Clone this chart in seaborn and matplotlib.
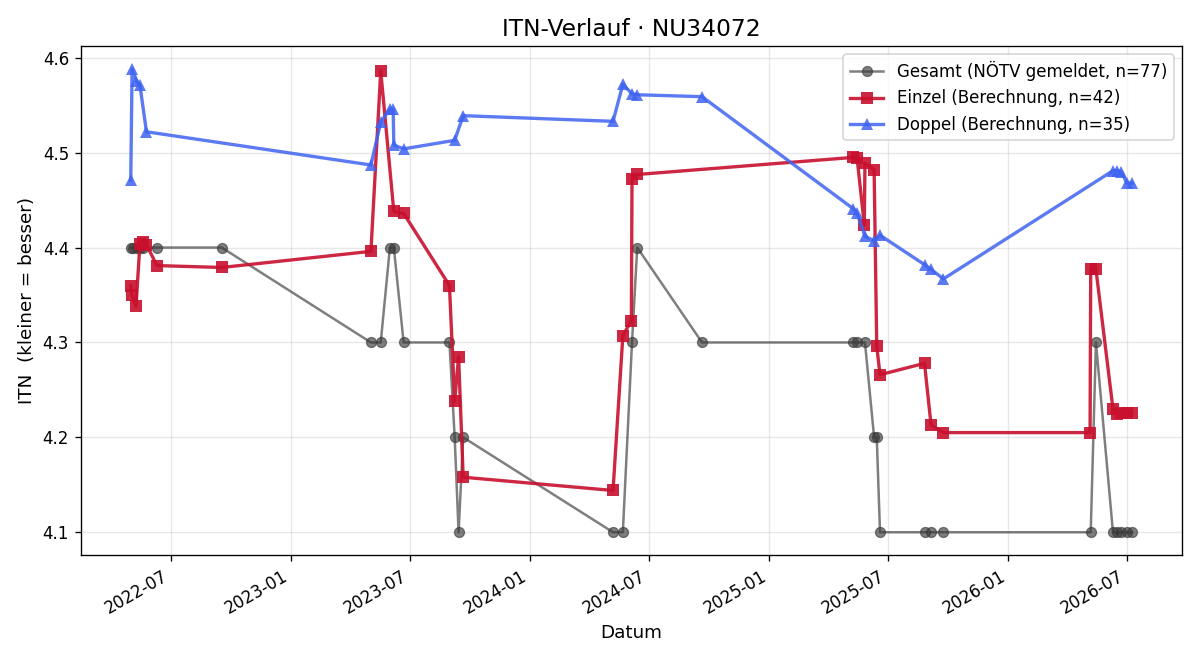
import seaborn as sns
import numpy as np
import pandas as pd
import matplotlib.pyplot as plt
import matplotlib.dates as mdates

# Gesamt (NÖTV gemeldet)
gesamt_datum = ["2022-05-01", "2022-05-05", "2022-05-10", "2022-05-15", "2022-05-19",
                "2022-06-10", "2022-09-17", "2023-05-03", "2023-05-18", "2023-06-01",
                "2023-06-07", "2023-06-22", "2023-08-31", "2023-09-08", "2023-09-14",
                "2023-09-21", "2024-05-07", "2024-05-22", "2024-06-05", "2024-06-13",
                "2024-09-20", "2025-05-09", "2025-05-15", "2025-05-27", "2025-06-10",
                "2025-06-14", "2025-06-19", "2025-08-26", "2025-09-05", "2025-09-24",
                "2026-05-07", "2026-05-15", "2026-06-10", "2026-06-16", "2026-06-23",
                "2026-07-01", "2026-07-09"]
gesamt_itn = [4.4, 4.4, 4.4, 4.4, 4.4,
              4.4, 4.4, 4.3, 4.3, 4.4,
              4.4, 4.3, 4.3, 4.2, 4.1,
              4.2, 4.1, 4.1, 4.3, 4.4,
              4.3, 4.3, 4.3, 4.3, 4.2,
              4.2, 4.1, 4.1, 4.1, 4.1,
              4.1, 4.3, 4.1, 4.1, 4.1,
              4.1, 4.1]

# Einzel (Berechnung)
einzel_datum = ["2022-05-01", "2022-05-03", "2022-05-09", "2022-05-15", "2022-05-19",
                "2022-05-25", "2022-06-10", "2022-09-17", "2023-05-03", "2023-05-18",
                "2023-06-07", "2023-06-22", "2023-08-31", "2023-09-08", "2023-09-14",
                "2023-09-21", "2024-05-07", "2024-05-22", "2024-06-04", "2024-06-05",
                "2024-06-13", "2025-05-09", "2025-05-15", "2025-05-26", "2025-05-27",
                "2025-06-10", "2025-06-14", "2025-06-19", "2025-08-26", "2025-09-05",
                "2025-09-24", "2026-05-06", "2026-05-07", "2026-05-15", "2026-06-10",
                "2026-06-16", "2026-06-23", "2026-07-01", "2026-07-09"]
einzel_itn = [4.360, 4.350, 4.338, 4.404, 4.406,
              4.403, 4.381, 4.379, 4.396, 4.586,
              4.438, 4.436, 4.360, 4.238, 4.285,
              4.158, 4.144, 4.307, 4.323, 4.472,
              4.477, 4.495, 4.494, 4.424, 4.489,
              4.482, 4.296, 4.266, 4.278, 4.213,
              4.205, 4.205, 4.377, 4.377, 4.230,
              4.225, 4.226, 4.226, 4.226]

# Doppel (Berechnung)
doppel_datum = ["2022-05-01", "2022-05-03", "2022-05-09", "2022-05-15", "2022-05-25",
                "2023-05-03", "2023-05-18", "2023-06-01", "2023-06-06", "2023-06-07",
                "2023-06-22", "2023-09-08", "2023-09-21", "2024-05-07", "2024-05-22",
                "2024-06-05", "2024-06-13", "2024-09-20", "2025-05-09", "2025-05-15",
                "2025-05-27", "2025-06-10", "2025-06-19", "2025-08-26", "2025-09-05",
                "2025-09-24", "2026-06-10", "2026-06-16", "2026-06-23", "2026-07-01",
                "2026-07-09"]
doppel_itn = [4.471, 4.588, 4.576, 4.571, 4.522,
              4.487, 4.532, 4.546, 4.546, 4.508,
              4.504, 4.513, 4.539, 4.533, 4.572,
              4.562, 4.561, 4.559, 4.441, 4.436,
              4.412, 4.407, 4.413, 4.382, 4.377,
              4.367, 4.481, 4.481, 4.480, 4.468,
              4.468]

fig, ax = plt.subplots(figsize=(10, 5.5), dpi=120)

sns.lineplot(x=pd.to_datetime(gesamt_datum), y=gesamt_itn, ax=ax, estimator=None, sort=False,
             color="#3a3a3a", alpha=0.65, linewidth=1.5, marker="o", markersize=6,
             markeredgecolor="#3a3a3a", label="Gesamt (NÖTV gemeldet, n=77)")
sns.lineplot(x=pd.to_datetime(einzel_datum), y=einzel_itn, ax=ax, estimator=None, sort=False,
             color="#c8102e", alpha=0.9, linewidth=2, marker="s", markersize=7,
             markeredgewidth=0, label="Einzel (Berechnung, n=42)")
sns.lineplot(x=pd.to_datetime(doppel_datum), y=doppel_itn, ax=ax, estimator=None, sort=False,
             color="#3f63f0", alpha=0.85, linewidth=2, marker="^", markersize=7,
             markeredgewidth=0, label="Doppel (Berechnung, n=35)")

ax.xaxis.set_major_locator(mdates.MonthLocator(bymonth=[1, 7]))
ax.xaxis.set_major_formatter(mdates.DateFormatter("%Y-%m"))
ax.grid(True, alpha=0.3)
ax.set_title("ITN-Verlauf · NU34072", fontsize=14)
ax.set_xlabel("Datum", fontsize=11)
ax.set_ylabel("ITN  (kleiner = besser)", fontsize=11)
ax.legend(loc="upper right")
fig.autofmt_xdate()
fig.tight_layout()
fig.savefig("out.png")
